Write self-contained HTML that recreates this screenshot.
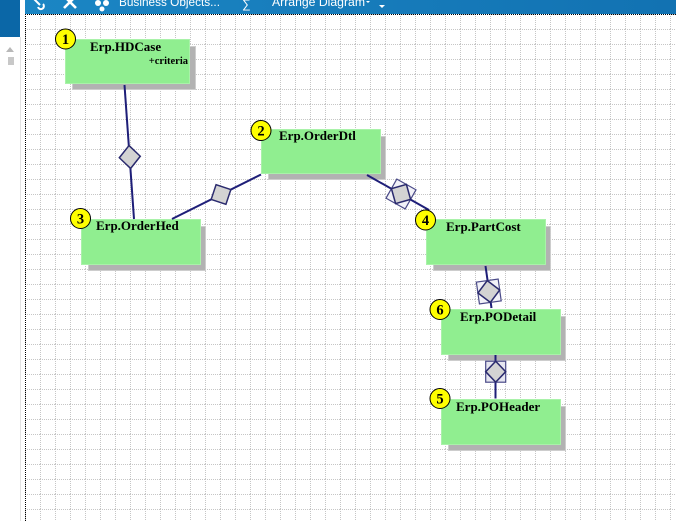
<!DOCTYPE html>
<html>
<head>
<meta charset="utf-8">
<style>
  html,body{margin:0;padding:0;background:#fff;}
  body{width:676px;height:521px;overflow:hidden;position:relative;}
  svg{position:absolute;left:0;top:0;display:block;}
</style>
</head>
<body>
<svg width="676" height="521" viewBox="0 0 676 521" xmlns="http://www.w3.org/2000/svg">
  <defs>
    <linearGradient id="tb" x1="0" y1="0" x2="1" y2="0">
      <stop offset="0" stop-color="#1b86c4"/>
      <stop offset="1" stop-color="#1272b2"/>
    </linearGradient>
    <pattern id="grid" x="25" y="14" width="15" height="15" patternUnits="userSpaceOnUse">
      <line x1="0.5" y1="0" x2="0.5" y2="15" stroke="#c6c6c6" stroke-width="1" stroke-dasharray="1 1"/>
      <line x1="0" y1="0.5" x2="15" y2="0.5" stroke="#c6c6c6" stroke-width="1" stroke-dasharray="1 1"/>
    </pattern>
  </defs>

  <!-- left panel -->
  <rect x="0" y="0" width="676" height="521" fill="#ffffff"/>
  <rect x="0" y="0" width="20" height="37" fill="#0b67a7"/>
  <line x1="20.5" y1="37" x2="20.5" y2="521" stroke="#e2e2e2" stroke-width="1"/>
  <polygon points="6,52 14,52 10,47" fill="#b8b8b8"/>
  <rect x="8" y="57" width="6" height="8" fill="#c8c8c8"/>

  <!-- canvas grid -->
  <rect x="25" y="14" width="651" height="507" fill="url(#grid)"/>
  <line x1="25.5" y1="14" x2="25.5" y2="521" stroke="#000" stroke-width="1" stroke-dasharray="1 1"/>

  <!-- toolbar -->
  <rect x="25" y="0" width="651" height="14" fill="url(#tb)"/>
  <line x1="25" y1="14.5" x2="676" y2="14.5" stroke="#000" stroke-width="1" stroke-dasharray="1 1"/>
  <!-- toolbar icons -->
  <path d="M34,-1 L40,5 M38,7 a3,3 0 1 0 5,-3" stroke="#fff" stroke-width="2" fill="none"/>
  <path d="M65,-3 L76,8 M75,-3 L64,8" stroke="#fff" stroke-width="2.6" fill="none"/>
  <circle cx="98" cy="3" r="3" fill="#fff"/>
  <circle cx="106" cy="3" r="3" fill="#fff"/>
  <circle cx="102" cy="9" r="2.5" fill="#fff"/>
  <text x="119" y="6" font-family="Liberation Sans, Arial, sans-serif" font-size="11.5" fill="#fff" textLength="101" lengthAdjust="spacingAndGlyphs">Business Objects...</text>
  <text x="242" y="8" font-family="Liberation Sans, Arial, sans-serif" font-size="12" fill="#fff">∑</text>
  <text x="272" y="6" font-family="Liberation Sans, Arial, sans-serif" font-size="12" fill="#fff" textLength="93" lengthAdjust="spacingAndGlyphs">Arrange Diagram</text>
  <polygon points="366,1 370,1 368,3" fill="#fff"/>
  <polygon points="379,5 385,5 382,8" fill="#fff"/>

  <!-- shadows -->
  <g fill="#b2b2b2" stroke="#cdcdcd" stroke-width="1">
    <rect x="72.5" y="46.5" width="123" height="43"/>
    <rect x="268.5" y="136.5" width="117" height="43"/>
    <rect x="88.5" y="226.5" width="117" height="44"/>
    <rect x="433.5" y="226.5" width="117" height="44"/>
    <rect x="448.5" y="316.5" width="117" height="44"/>
    <rect x="448.5" y="406.5" width="117" height="44"/>
  </g>

  <!-- boxes -->
  <g fill="#90ee90" stroke="#a9f2a9" stroke-width="1">
    <rect x="65.5" y="39.5" width="124" height="44"/>
    <rect x="261.5" y="129.5" width="119" height="44"/>
    <rect x="81.5" y="219.5" width="119" height="45"/>
    <rect x="426.5" y="219.5" width="119" height="45"/>
    <rect x="441.5" y="309.5" width="119" height="45"/>
    <rect x="441.5" y="399.5" width="119" height="45"/>
  </g>

  <!-- labels -->
  <g font-family="Liberation Serif, 'Times New Roman', serif" font-weight="bold" font-size="13" fill="#000">
    <text x="90" y="51">Erp.HDCase</text>
    <text x="279" y="140">Erp.OrderDtl</text>
    <text x="96" y="230">Erp.OrderHed</text>
    <text x="446" y="231">Erp.PartCost</text>
    <text x="460" y="321">Erp.PODetail</text>
    <text x="456" y="411">Erp.POHeader</text>
  </g>
  <text x="188" y="64" text-anchor="end" font-family="Liberation Serif, 'Times New Roman', serif" font-weight="bold" font-size="10.5" fill="#000">+criteria</text>

  <!-- connectors -->
  <g stroke="#1e1e78" stroke-width="2" fill="none">
    <line x1="124.5" y1="85" x2="134" y2="219"/>
    <line x1="261" y1="174.5" x2="172" y2="219"/>
    <line x1="367" y1="175" x2="429" y2="210"/>
    <line x1="485.5" y1="266" x2="491.5" y2="308"/>
    <line x1="495.5" y1="355" x2="495.5" y2="398.5"/>
  </g>

  <!-- diamonds -->
  <g transform="translate(129.8,157) rotate(86)">
    <polygon points="11.5,0 0,10.5 -11.5,0 0,-10.5" fill="#d3d3d3" stroke="#2a2a6e" stroke-width="1.5"/>
  </g>
  <g transform="translate(221,194.5) rotate(153.4)">
    <polygon points="11,0 0,11 -11,0 0,-11" fill="#d3d3d3" stroke="#2a2a6e" stroke-width="1.5"/>
  </g>
  <g transform="translate(401,194) rotate(29.4)">
    <rect x="-11" y="-11" width="22" height="22" fill="#f2f2f8" stroke="#4a4a88" stroke-width="1.2"/>
    <polygon points="11,0 0,11 -11,0 0,-11" fill="#d3d3d3" stroke="#2a2a6e" stroke-width="1.5"/>
  </g>
  <g transform="translate(488.8,291.5) rotate(82)">
    <rect x="-11" y="-11" width="22" height="22" fill="#f2f2f8" stroke="#4a4a88" stroke-width="1.2"/>
    <polygon points="11,0 0,11 -11,0 0,-11" fill="#d3d3d3" stroke="#2a2a6e" stroke-width="1.5"/>
  </g>
  <g transform="translate(495.7,371.7) rotate(90)">
    <rect x="-10.5" y="-10" width="21" height="20" fill="#e6e6f0" stroke="#4a4a88" stroke-width="1.2"/>
    <polygon points="10.5,0 0,10 -10.5,0 0,-10" fill="#d3d3d3" stroke="#2a2a6e" stroke-width="1.5"/>
  </g>

  <!-- number badges -->
  <g fill="#ffff00" stroke="#000" stroke-width="1">
    <circle cx="65.5" cy="39" r="10"/>
    <circle cx="261" cy="130.5" r="10"/>
    <circle cx="80.5" cy="218.5" r="10"/>
    <circle cx="425.5" cy="220" r="10"/>
    <circle cx="440" cy="309.5" r="10"/>
    <circle cx="440" cy="398.5" r="10"/>
  </g>
  <g font-family="Liberation Serif, 'Times New Roman', serif" font-weight="bold" font-size="14.5" fill="#000" text-anchor="middle">
    <text x="65.5" y="44">1</text>
    <text x="261" y="135.5">2</text>
    <text x="80.5" y="223.5">3</text>
    <text x="425.5" y="225">4</text>
    <text x="440" y="314.5">6</text>
    <text x="440" y="403.5">5</text>
  </g>
</svg>
</body>
</html>
